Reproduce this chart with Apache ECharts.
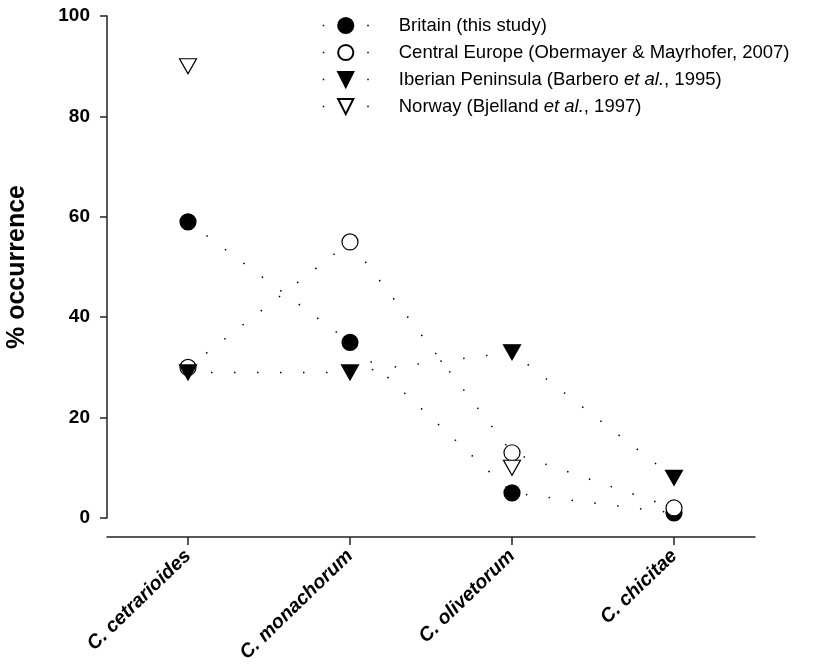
<!DOCTYPE html>
<html>
<head>
<meta charset="utf-8">
<script src="https://cdn.jsdelivr.net/npm/echarts@6/dist/echarts.min.js"></script>
<style>html,body{margin:0;padding:0;background:#fff}#c{width:836px;height:670px}</style>
</head>
<body>
<div id="c"></div>
<script>
const categories = ['C. cetrarioides', 'C. monachorum', 'C. olivetorum', 'C. chicitae'];
const britain = [59, 35, 5, 1];
const centralEurope = [30, 55, 13, 2];
const iberian = [29, 29, 33, 8];
const norway = [90, null, 10, null];
const yTicks = [0, 20, 40, 60, 80, 100];
const seriesNames = [
  'Britain (this study)',
  'Central Europe (Obermayer & Mayrhofer, 2007)',
  'Iberian Peninsula (Barbero et al., 1995)',
  'Norway (Bjelland et al., 1997)'
];

const FONT = 'Liberation Sans, Arial, sans-serif';
const TRI = 'path://M0,0L20,0L10,17.3Z';
const dotLine = { color: '#000', width: 1.5, type: [1.5, 21.5] };

function mk(name, data, symbol, size, filled) {
  return {
    name: name, type: 'line', data: data, symbol: symbol, symbolSize: size,
    connectNulls: false, showSymbol: true,
    lineStyle: dotLine,
    itemStyle: { color: filled ? '#000' : '#fff', borderColor: '#000', borderWidth: 1.2 },
    emphasis: { disabled: true },
    animation: false
  };
}

const chart = echarts.init(document.getElementById('c'), null, { renderer: 'canvas' });
chart.setOption({
  backgroundColor: '#fff',
  animation: false,
  grid: { left: 107, right: 81, top: 16, bottom: 152, containLabel: false, outerBoundsMode: 'none' },
  legend: {
    orient: 'vertical', left: 322, top: 16, padding: 0,
    itemWidth: 46, itemHeight: 19, itemGap: 8,
    lineStyle: { type: [1.5, 43], width: 1.5, color: '#000' },
    selectedMode: false,
    data: seriesNames,
    formatter: function (n) {
      const i = n.indexOf('et al.');
      if (i < 0) return '{n|' + n + '}';
      return '{n|' + n.slice(0, i) + '}{i|et al.}{n|' + n.slice(i + 6) + '}';
    },
    textStyle: {
      padding: [0, 0, 0, 25],
      rich: {
        n: { fontFamily: FONT, fontSize: 18.5, color: '#000', lineHeight: 19 },
        i: { fontFamily: FONT, fontSize: 18.5, fontStyle: 'italic', color: '#000', lineHeight: 19 }
      }
    }
  },
  xAxis: {
    type: 'category', data: categories, boundaryGap: true, offset: 19,
    axisLine: { show: true, onZero: false, lineStyle: { color: '#222', width: 1.5 } },
    axisTick: { show: true, alignWithLabel: true, interval: 0, inside: false, length: 8, lineStyle: { color: '#222', width: 1.5 } },
    axisLabel: { rotate: 44, margin: 16, color: '#000', fontFamily: FONT, fontSize: 19.5, fontWeight: 'bold', fontStyle: 'italic', interval: 0 },
    splitLine: { show: false }
  },
  yAxis: {
    type: 'value', min: 0, max: 100, interval: 20,
    name: '% occurrence', nameLocation: 'middle', nameRotate: 90, nameGap: 77,
    nameTextStyle: { fontFamily: FONT, fontSize: 25, fontWeight: 'bold', color: '#000' },
    axisLine: { show: true, lineStyle: { color: '#222', width: 1.5 } },
    axisTick: { show: true, length: 7, lineStyle: { color: '#222', width: 1.5 } },
    axisLabel: { margin: 17, color: '#000', fontFamily: FONT, fontSize: 19, fontWeight: 'bold',
      formatter: function (v) { return yTicks.indexOf(v) >= 0 ? String(v) : ''; } },
    splitLine: { show: false }
  },
  series: [
    mk(seriesNames[0], britain, 'circle', 16, true),
    mk(seriesNames[1], centralEurope, 'circle', 16, false),
    mk(seriesNames[2], iberian, TRI, [17, 15], true),
    mk(seriesNames[3], norway, TRI, [17, 15], false)
  ]
});
</script>
</body>
</html>
